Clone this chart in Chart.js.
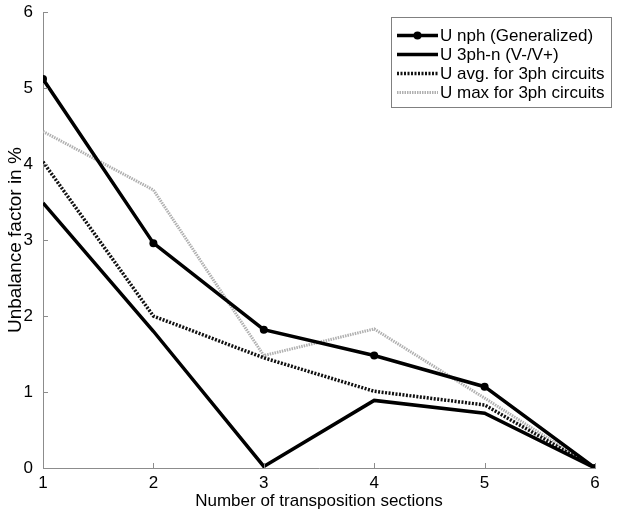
<!DOCTYPE html>
<html>
<head>
<meta charset="utf-8">
<script src="https://cdn.jsdelivr.net/npm/chart.js@4"></script>
<style>
  html, body { margin: 0; padding: 0; background: #fff; }
  #wrap { width: 629px; height: 516px; }
</style>
</head>
<body>
<div id="wrap"><canvas id="chart" width="629" height="516"></canvas></div>
<script>
// 横軸: 転置区間数
const sections = [1, 2, 3, 4, 5, 6];
const yTicks = [0, 1, 2, 3, 4, 5, 6];

// 各系列の不平衡率 (%)
const uNph   = [5.12, 2.96, 1.82, 1.48, 1.07, 0];
const u3phN  = [3.49, 1.80, 0.02, 0.89, 0.72, 0];
const uAvg   = [4.03, 2.00, 1.45, 1.01, 0.83, 0];
const uMax   = [4.43, 3.66, 1.48, 1.83, 0.92, 0];

const seriesNames = [
  'U nph (Generalized)',
  'U 3ph-n (V-/V+)',
  'U avg. for 3ph circuits',
  'U max for 3ph circuits',
];

const FONT = '"Liberation Sans", Arial, sans-serif';

const toXY = (vals) => vals.map((v, i) => ({ x: sections[i], y: v }));

// 内向きの目盛りと凡例を自前で描く
const axisDecor = {
  id: 'axisDecor',
  afterDraw(chart) {
    const { ctx, chartArea: a, scales: { x, y } } = chart;
    ctx.save();
    ctx.strokeStyle = '#8c8c8c';
    ctx.lineWidth = 1;
    ctx.beginPath();
    sections.forEach((v) => {
      const px = Math.round(x.getPixelForValue(v)) + 0.5;
      ctx.moveTo(px, a.bottom);
      ctx.lineTo(px, a.bottom - 5);
    });
    yTicks.forEach((v) => {
      const py = Math.round(y.getPixelForValue(v)) + 0.5;
      ctx.moveTo(a.left, py);
      ctx.lineTo(a.left + 5, py);
    });
    ctx.stroke();

    // legend
    const bx = 391.5, by = 17.5, bw = 220, bh = 90;
    ctx.fillStyle = '#fff';
    ctx.fillRect(bx, by, bw, bh);
    ctx.strokeStyle = '#808080';
    ctx.strokeRect(bx, by, bw, bh);
    const rows = [35, 54, 73, 92];
    const ordered = [...chart.data.datasets].sort((p, q) => p.order - q.order);
    ordered.forEach((ds, i) => {
      const yy = rows[i] + 0.5;
      ctx.strokeStyle = ds.borderColor;
      ctx.lineWidth = ds.borderWidth;
      ctx.setLineDash(ds.borderDash || []);
      ctx.beginPath();
      ctx.moveTo(397, yy);
      ctx.lineTo(438, yy);
      ctx.stroke();
      ctx.setLineDash([]);
      if (ds.pointRadius > 0) {
        ctx.fillStyle = ds.pointBackgroundColor;
        ctx.beginPath();
        ctx.arc(417.5, yy, ds.pointRadius, 0, Math.PI * 2);
        ctx.fill();
      }
      ctx.fillStyle = '#000';
      ctx.font = '17px ' + FONT;
      ctx.textBaseline = 'middle';
      ctx.textAlign = 'left';
      ctx.fillText(ds.label, 440, yy + 1);
    });
    ctx.restore();
  },
};

new Chart(document.getElementById('chart'), {
  type: 'line',
  data: {
    datasets: [
      {
        label: seriesNames[0],
        data: toXY(uNph),
        order: 0,
        borderColor: '#000',
        borderWidth: 3.5,
        pointRadius: 4,
        pointBackgroundColor: '#000',
        pointBorderWidth: 0,
      },
      {
        label: seriesNames[1],
        data: toXY(u3phN),
        order: 1,
        borderColor: '#000',
        borderWidth: 3.5,
        pointRadius: 0,
      },
      {
        label: seriesNames[2],
        data: toXY(uAvg),
        order: 2,
        borderColor: '#111',
        borderWidth: 3.5,
        borderDash: [2, 1.5],
        pointRadius: 0,
      },
      {
        label: seriesNames[3],
        data: toXY(uMax),
        order: 3,
        borderColor: '#b0b0b0',
        borderWidth: 3,
        borderDash: [1.5, 1],
        pointRadius: 0,
      },
    ],
  },
  options: {
    responsive: false,
    animation: false,
    layout: { padding: { top: 12, right: 34, left: 0, bottom: 0 } },
    plugins: {
      legend: { display: false },
      tooltip: { enabled: false },
    },
    scales: {
      x: {
        type: 'linear',
        min: 1,
        max: 6,
        afterFit: (s) => { s.height = 48; },
        afterBuildTicks: (s) => { s.ticks = sections.map((v) => ({ value: v })); },
        border: { display: true, color: '#8c8c8c', width: 1 },
        grid: { display: false },
        ticks: { color: '#000', font: { family: FONT, size: 17 }, padding: -3, maxRotation: 0 },
        title: {
          display: true,
          text: 'Number of transposition sections',
          color: '#000',
          font: { family: FONT, size: 17 },
          padding: { top: 0, bottom: 4 },
        },
      },
      y: {
        min: 0,
        max: 6,
        afterFit: (s) => { s.width = 43; },
        afterBuildTicks: (s) => { s.ticks = yTicks.map((v) => ({ value: v })); },
        border: { display: true, color: '#8c8c8c', width: 1 },
        grid: { display: false },
        ticks: { color: '#000', font: { family: FONT, size: 17 }, padding: 2 },
        title: {
          display: true,
          text: 'Unbalance factor in %',
          color: '#000',
          font: { family: FONT, size: 19 },
          padding: { top: 4, bottom: 0 },
        },
      },
    },
  },
  plugins: [axisDecor],
});
</script>
</body>
</html>
